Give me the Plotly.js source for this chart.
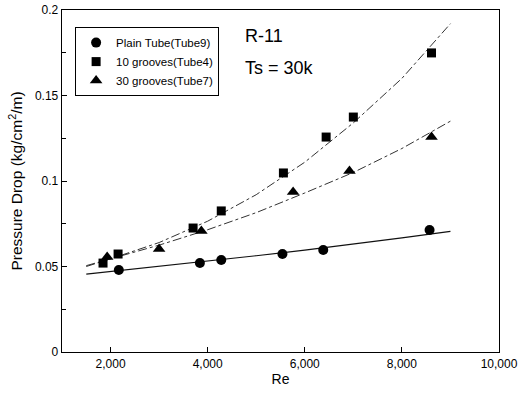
<!DOCTYPE html>
<html><head><meta charset="utf-8">
<script src="https://cdn.plot.ly/plotly-3.0.1.min.js"></script>
<style>html,body{margin:0;padding:0;background:#fff}</style>
</head><body><div id="chart" style="width:521px;height:393px"></div>
<script>
// Measured points
const plainRe = [2170, 3840, 4280, 5540, 6380, 8570];
const plainDP = [0.048, 0.052, 0.0538, 0.0573, 0.0596, 0.0713];
const g10Re = [1845, 2155, 3700, 4280, 5560, 6440, 7000, 8610];
const g10DP = [0.052, 0.0573, 0.0725, 0.0825, 0.1047, 0.1257, 0.1374, 0.1749];
const g30Re = [1930, 3000, 3870, 5760, 6920, 8610];
const g30DP = [0.0556, 0.0602, 0.0708, 0.0936, 0.1058, 0.1257];
// Fitted curves
const fitRe = [1500, 2000, 3000, 4000, 5000, 6000, 7000, 8000, 9000];
const fitPlain = [0.0455, 0.047, 0.050, 0.053, 0.0563, 0.0596, 0.063, 0.0667, 0.0705];
const fitG10 = [0.050, 0.0545, 0.064, 0.0765, 0.092, 0.111, 0.134, 0.160, 0.192];
const fitG30 = [0.0505, 0.0545, 0.0625, 0.0715, 0.0815, 0.093, 0.105, 0.119, 0.135];
const names = ["Plain Tube(Tube9)", "10 grooves(Tube4)", "30 grooves(Tube7)"];

const F = "Liberation Sans, Arial, sans-serif";
const traces = [
  {x: fitRe, y: fitPlain, mode: "lines", line: {color: "#111", width: 1.2}, showlegend: false, hoverinfo: "skip"},
  {x: fitRe, y: fitG10, mode: "lines", line: {color: "#333", width: 1, dash: "dashdot"}, showlegend: false, hoverinfo: "skip"},
  {x: fitRe, y: fitG30, mode: "lines", line: {color: "#333", width: 1, dash: "dashdot"}, showlegend: false, hoverinfo: "skip"},
  {x: plainRe, y: plainDP, name: names[0], mode: "markers", marker: {symbol: "circle", size: 10, color: "#000"}},
  {x: g10Re, y: g10DP, name: names[1], mode: "markers", marker: {symbol: "square", size: 9, color: "#000"}},
  {x: g30Re, y: g30DP, name: names[2], mode: "markers", marker: {symbol: "triangle-up", size: 11, color: "#000"}}
];

const layout = {
  width: 521, height: 393,
  margin: {l: 62, r: 22, t: 10, b: 41},
  paper_bgcolor: "#fff", plot_bgcolor: "#fff",
  font: {family: F, color: "#000", size: 12},
  showlegend: true,
  legend: {x: 0.03, y: 0.95, xanchor: "left", yanchor: "top", bgcolor: "#fff",
           bordercolor: "#000", borderwidth: 1, font: {size: 11.5, family: F},
           tracegroupgap: 0, itemwidth: 30},
  xaxis: {
    range: [1000, 10000], tickvals: [2000, 4000, 6000, 8000, 10000],
    ticktext: ["2,000", "4,000", "6,000", "8,000", "10,000"],
    ticks: "inside", ticklen: 5, tickcolor: "#000", showgrid: false, zeroline: false,
    showline: true, linecolor: "#000", linewidth: 1.3, mirror: true,
    tickfont: {size: 12, family: F},
    title: {text: "Re", font: {size: 14, family: F}, standoff: 4}
  },
  yaxis: {
    range: [0, 0.2], tickvals: [0, 0.05, 0.1, 0.15, 0.2],
    ticktext: ["0", "0.05", "0.1", "0.15", "0.2"],
    ticks: "inside", ticklen: 5, tickcolor: "#000", showgrid: false, zeroline: false,
    minor: {dtick: 0.025, ticks: "inside", ticklen: 4, tickcolor: "#000"},
    showline: true, linecolor: "#000", linewidth: 1.3, mirror: true,
    tickfont: {size: 12, family: F},
    title: {text: "Pressure Drop (kg/cm<sup>2</sup>/m)", font: {size: 15.5, family: F}, standoff: 8}
  },
  annotations: [
    {text: "R-11", xref: "paper", yref: "paper", x: 0.415, y: 0.925, xanchor: "left", yanchor: "middle", showarrow: false, font: {size: 18, family: F}},
    {text: "Ts = 30k", xref: "paper", yref: "paper", x: 0.415, y: 0.83, xanchor: "left", yanchor: "middle", showarrow: false, font: {size: 18, family: F}}
  ]
};
Plotly.newPlot("chart", traces, layout, {displayModeBar: false, staticPlot: true});
</script></body></html>
